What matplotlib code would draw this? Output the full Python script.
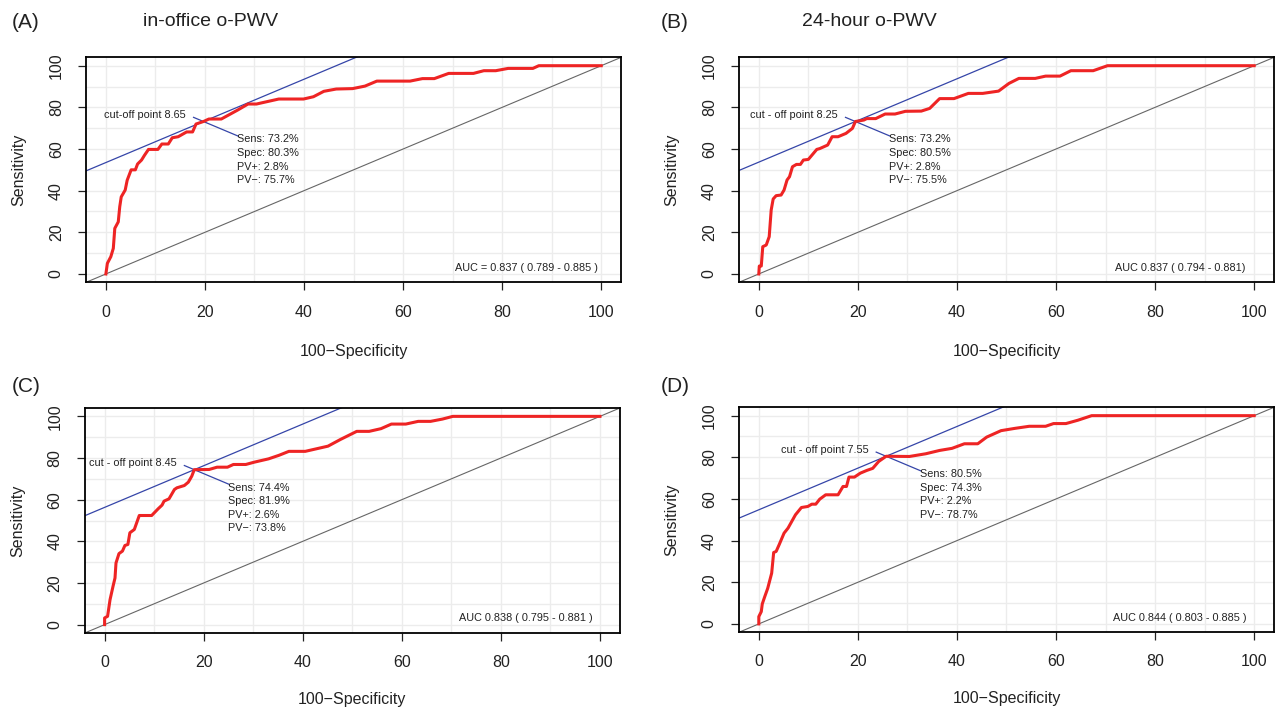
# Four ROC panels (2x2) for o-PWV cut-off points, R-style layout.
import matplotlib.pyplot as plt

plt.rcParams['font.family'] = ['Liberation Sans', 'DejaVu Sans']

# ROC curves: 100-Specificity (x) and Sensitivity (y)
x_a = [0, 0.3, 1, 1.5, 1.8, 2.5, 2.8, 3.1, 3.9, 4.3, 5.1, 5.95, 6.4, 7.2, 7.8, 8.6, 10.5,
       11.3, 12.6, 13.4, 14.6, 16.3, 17.5, 18.2, 19.7, 20.8, 23.3, 26.6, 28.7, 30.4, 34.9,
       39.9, 41.9, 44, 46.5, 49.8, 52.3, 54.7, 61.4, 63.9, 66.3, 69.2, 74.2, 76.3, 78.7,
       81.2, 86.2, 87.4, 100]
y_a = [0, 5.1, 8.3, 12.3, 21.9, 25, 32.3, 37, 40.3, 45, 50, 50, 52.8, 54.7, 57, 59.8, 59.8,
       62.4, 62.4, 65.4, 65.9, 68.2, 68.2, 72, 73.2, 74.4, 74.4, 78.7, 81.6, 81.6, 84,
       84, 85.1, 87.7, 88.8, 89, 90.2, 92.6, 92.6, 93.8, 93.8, 96.3, 96.3, 97.6, 97.6,
       98.7, 98.7, 100, 100]

x_b = [0, 0.1, 0.5, 0.8, 1.5, 2.1, 2.5, 2.9, 3.5, 4.5, 5.1, 5.7, 6.2, 6.8, 7.6, 8.4, 9,
       10, 11.7, 12.3, 13.9, 14.8, 16, 17.6, 18.9, 19.5, 21.2, 21.8, 23.6, 25.5, 27.5,
       29.6, 32.8, 34.5, 36.5, 39.4, 42.3, 45.2, 48.4, 50.5, 52.5, 55.8, 57.9, 60.8, 63,
       67.5, 70.4, 100]
y_b = [0, 3.8, 3.8, 13.1, 13.9, 17.9, 30.7, 36, 37.6, 37.9, 40.3, 45.1, 46.7, 51.5, 52.6,
       52.6, 54.7, 55, 59.8, 60.2, 61.9, 65.9, 65.9, 67.5, 69.9, 73.2, 73.9, 74.6, 74.6,
       76.8, 76.8, 78.1, 78.2, 79.5, 84.2, 84.2, 86.7, 86.7, 87.8, 91.5, 93.9, 93.9, 95,
       95, 97.6, 97.6, 100, 100]

x_c = [0, 0, 0.6, 0.8, 1.1, 1.7, 2.1, 2.3, 2.9, 3.6, 4.1, 4.7, 5.1, 6, 7, 9.5, 10.8, 11.6,
       12, 13, 14.1, 14.6, 16.1, 16.9, 17.6, 18.1, 21.1, 22.7, 24.8, 26, 28.5, 30.2, 33.1,
       35.2, 37.2, 40.5, 45.1, 47.6, 50.9, 53.4, 55.8, 57.9, 60.8, 63.3, 65.8, 68.2,
       70.3, 100]
y_c = [0, 3.2, 4, 7.2, 12, 18.4, 22.4, 29.6, 34.1, 35.3, 38, 38.5, 44.1, 45.7, 52.4, 52.4,
       55.6, 57.4, 59.3, 60.4, 64.9, 65.7, 66.8, 68.4, 71.3, 74.4, 74.5, 75.6, 75.6, 76.9,
       76.9, 78, 79.6, 81.3, 83.2, 83.2, 85.7, 88.9, 92.8, 92.8, 94.1, 96.3, 96.3, 97.6,
       97.6, 98.7, 100, 100]

x_d = [0, 0, 0.5, 0.7, 1.2, 1.8, 2.6, 3, 3.5, 4.1, 5.1, 5.9, 7.4, 8.6, 9.9, 10.7, 11.5,
       12.3, 13.5, 16, 17, 17.7, 18.2, 19.3, 20.5, 21.8, 23, 24.2, 25.7, 30.4, 33.7,
       36.5, 39, 41.5, 44.2, 46, 48.9, 51.7, 54.6, 57.9, 59.5, 62, 64.4, 67.2, 100]
y_d = [0, 3.5, 5.9, 9.6, 13.1, 17.1, 24.4, 34.3, 34.8, 38, 43.6, 46, 52.4, 55.9, 56.4,
       57.5, 57.5, 59.9, 62, 62, 66, 66, 70.5, 70.5, 72.4, 73.7, 74.7, 78, 80.5, 80.4,
       81.7, 83.3, 84.3, 86.5, 86.5, 89.7, 92.8, 93.9, 94.9, 94.9, 96.2, 96.2, 97.8, 100,
       100]

panel_tags = ['(A)', '(B)', '(C)', '(D)']
titles = ['in-office o-PWV', '24-hour o-PWV', '', '']
curves = [(x_a, y_a), (x_b, y_b), (x_c, y_c), (x_d, y_d)]
cut_x = [19.7, 19.5, 18.1, 25.7]          # 100 - specificity at the cut-off
cut_y = [73.2, 73.2, 74.4, 80.5]          # sensitivity at the cut-off
cut_labels = ['cut-off point 8.65', 'cut - off point 8.25',
              'cut - off point 8.45', 'cut - off point 7.55']
stats = [['73.2%', '80.3%', '2.8%', '75.7%'],
         ['73.2%', '80.5%', '2.8%', '75.5%'],
         ['74.4%', '81.9%', '2.6%', '73.8%'],
         ['80.5%', '74.3%', '2.2%', '78.7%']]
auc_labels = ['AUC = 0.837 ( 0.789 - 0.885 )', 'AUC 0.837 ( 0.794 - 0.881)',
              'AUC 0.838 ( 0.795 - 0.881 )', 'AUC 0.844 ( 0.803 - 0.885 )']

fig = plt.figure(figsize=(12.75, 7.1), dpi=100)
boxes = [[0.0675, 0.6024, 0.4196, 0.3168], [0.5796, 0.6024, 0.4196, 0.3168],
         [0.0665, 0.1085, 0.4196, 0.3168], [0.5796, 0.1095, 0.4196, 0.3168]]
tag_pos = [(0.0094, 0.969), (0.518, 0.969), (0.0094, 0.455), (0.518, 0.455)]
title_x = [0.1122, 0.629]
xlab_y = [-0.275, -0.275, -0.262, -0.262]

red = '#ee2424'
blue = '#3545a8'
txt = '#222222'

for i, ax_box in enumerate(boxes):
    ax = fig.add_axes(ax_box)
    ax.set_xlim(-4, 104)
    ax.set_ylim(-4, 104)
    grid = list(range(0, 101, 10))
    for g in grid:
        ax.axvline(g, color='#ececec', lw=1.0, zorder=0)
        ax.axhline(g, color='#ececec', lw=1.0, zorder=0)

    ax.plot([-4, 104], [-4, 104], color='#666666', lw=0.8, zorder=1)
    icpt = cut_y[i] - cut_x[i]
    ax.plot([-4, 104], [-4 + icpt, 104 + icpt], color=blue, lw=0.9, zorder=2)

    xs, ys = curves[i]
    ax.plot(xs, ys, color=red, lw=2.2, zorder=3, solid_joinstyle='round')

    cx, cy = cut_x[i], cut_y[i]
    ax.plot([cx - 2, cx + 7], [cy + 2, cy - 7], color=blue, lw=0.9, zorder=2)
    ax.text(cx - 3.5, cy + 3.1, cut_labels[i], ha='right', va='center',
            fontsize=7.8, color=txt)
    s = stats[i]
    ax.text(cx + 6.8, cy - 6.2,
            f'Sens: {s[0]}\nSpec: {s[1]}\nPV+: {s[2]}\nPV\u2212: {s[3]}',
            ha='left', va='top', fontsize=7.8, color=txt, linespacing=1.45)
    ax.text(85, 3, auc_labels[i], ha='center', va='center', fontsize=7.8, color=txt)

    ax.set_xticks(range(0, 101, 20))
    ax.set_yticks(range(0, 101, 20))
    ax.tick_params(direction='out', length=6, width=0.9, pad=10,
                   labelsize=11.5, colors='#222222')
    for lab in ax.get_yticklabels():
        lab.set_rotation(90)
        lab.set_va('center')
    for sp in ax.spines.values():
        sp.set_linewidth(1.3)
        sp.set_color('black')

    ax.set_xlabel('100\u2212Specificity', fontsize=11.5, color=txt)
    ax.set_ylabel('Sensitivity', fontsize=11.5, color=txt)
    ax.xaxis.set_label_coords(0.5, xlab_y[i])
    ax.yaxis.set_label_coords(-0.112, 0.5)

    fig.text(tag_pos[i][0], tag_pos[i][1], panel_tags[i], fontsize=15,
             ha='left', va='center', color=txt)
    if titles[i]:
        fig.text(title_x[i], 0.970, titles[i], fontsize=14, ha='left',
                 va='center', color=txt)

fig.savefig('out.png', dpi=100)
